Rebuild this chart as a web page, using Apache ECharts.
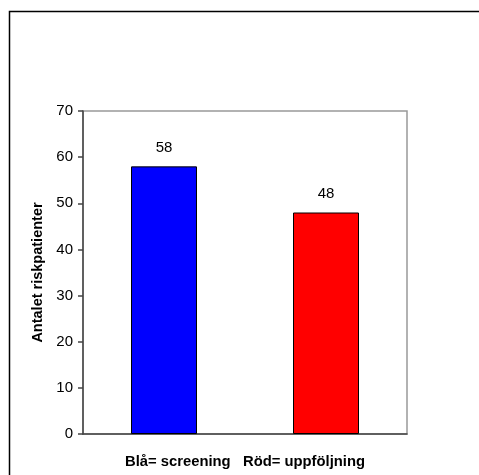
<!DOCTYPE html>
<html>
<head>
<meta charset="utf-8">
<script src="https://cdn.jsdelivr.net/npm/echarts@6/dist/echarts.min.js"></script>
<style>
html,body{margin:0;padding:0;background:#fff;}
#c{width:479px;height:475px;}
</style>
</head>
<body>
<div id="c"></div>
<script>
var categories = ["Blå", "Röd"];
var values = [58, 48];
var barColors = ["#0000FF", "#FF0000"];
var yTicks = [0, 10, 20, 30, 40, 50, 60, 70];
var xTitle = "Blå= screening   Röd= uppföljning";
var yTitle = "Antalet riskpatienter";

var chart = echarts.init(document.getElementById('c'), null, {renderer: 'canvas'});
var font = 'Arial, "Liberation Sans", sans-serif';
chart.setOption({
  backgroundColor: '#fff',
  animation: false,
  graphic: [{
    type: 'rect', left: 7, top: 9, z: 100,
    shape: {x: 0, y: 0, width: 520, height: 520},
    style: {fill: 'none', stroke: '#000', lineWidth: 1.5}
  }],
  grid: {left: 83, right: 72, top: 111, bottom: 41, show: true, borderColor: '#999', borderWidth: 1.5, backgroundColor: 'transparent'},
  xAxis: {
    type: 'category', data: categories,
    axisLabel: {show: false}, axisTick: {show: false},
    axisLine: {lineStyle: {color: '#444', width: 1.5}},
    name: xTitle, nameLocation: 'middle', nameGap: 20,
    nameTextStyle: {fontFamily: font, fontWeight: 'bold', fontSize: 14.8, color: '#000'}
  },
  yAxis: {
    type: 'value', min: yTicks[0], max: yTicks[yTicks.length - 1], interval: 10,
    splitLine: {show: false},
    axisLine: {show: true, lineStyle: {color: '#444', width: 1.5}},
    axisTick: {show: true, length: 5, lineStyle: {color: '#444', width: 1.5}},
    axisLabel: {fontFamily: font, fontSize: 15, color: '#000', margin: 10},
    name: yTitle, nameLocation: 'middle', nameGap: 38,
    nameTextStyle: {fontFamily: font, fontWeight: 'bold', fontSize: 14.5, color: '#000'}
  },
  series: [{
    type: 'bar', barWidth: 66,
    data: values.map(function (v, i) {
      return {value: v, itemStyle: {color: barColors[i], borderColor: '#000', borderWidth: 1}};
    }),
    label: {show: true, position: 'top', distance: 11, fontFamily: font, fontSize: 15, color: '#000'}
  }]
});
</script>
</body>
</html>
